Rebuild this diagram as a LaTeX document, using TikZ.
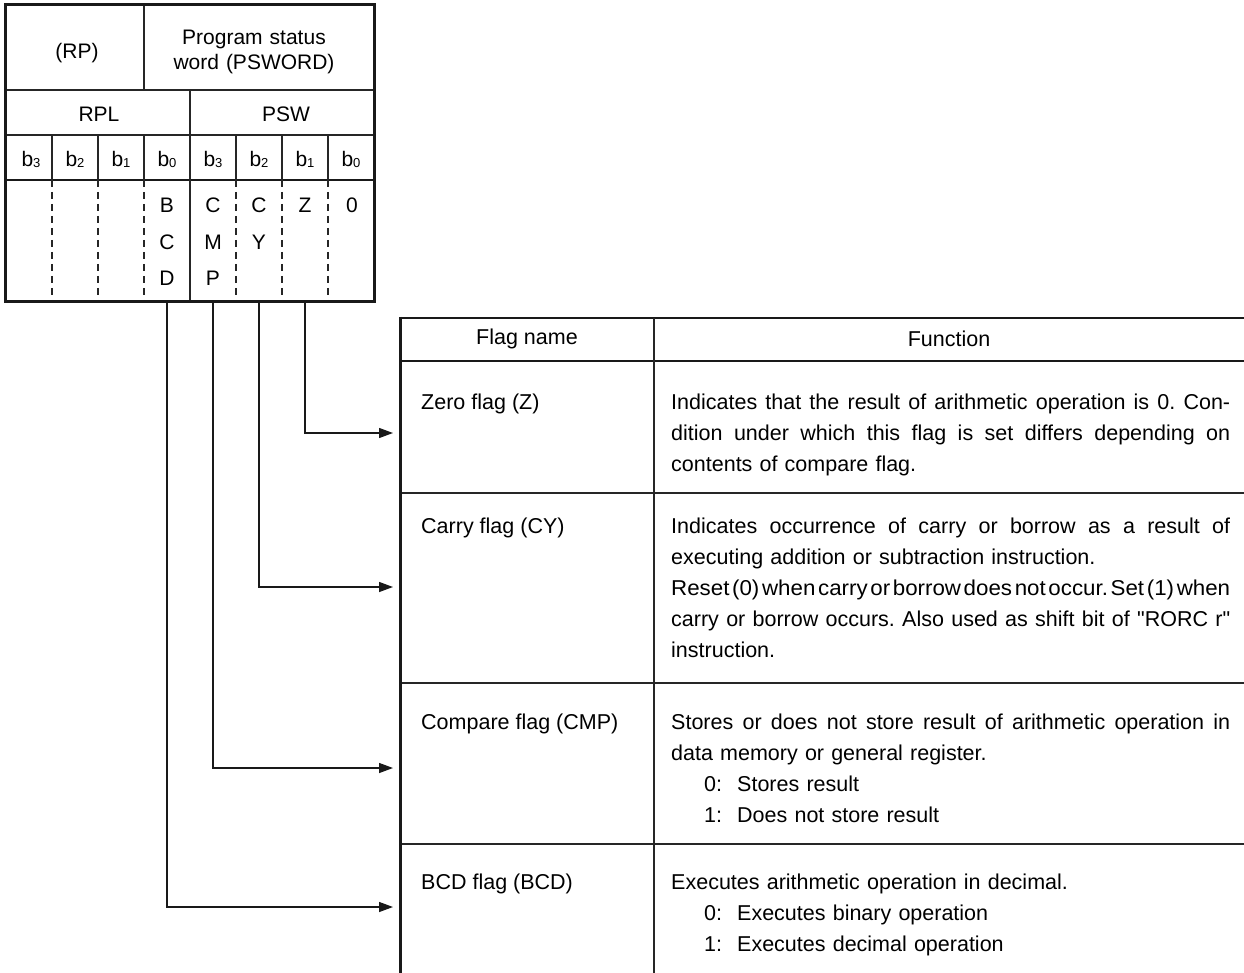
\documentclass[tikz,border=0pt]{standalone}
\usepackage{fontspec}
\setmainfont{Liberation Sans}
% same face without TeX ligatures, for straight double quotes
\newfontfamily\plainface{Liberation Sans}
\usetikzlibrary{arrows.meta}

% one full-width (justified) line of a description
\newcommand\jline[1]{\makebox[\linewidth][s]{\spaceskip=.278em plus 1fil\relax
  \xspaceskip=\spaceskip #1}\\}
% one line with tight spacing, squeezed to the full width
\newcommand\sqline[1]{\resizebox{\linewidth}{\height}{\spaceskip=.12em\relax
  \xspaceskip=\spaceskip #1}\\}
% bit label such as b3
\newcommand\bit[1]{b\raisebox{-1pt}{\fontsize{13}{13}\selectfont #1}}
% indented item of a choice list
\newcommand\choice[2]{\hspace*{33pt}\makebox[33pt][l]{#1:}#2}
\newcommand\sq{{\plainface\symbol{34}}}

\begin{document}
\begin{tikzpicture}[x=1pt,y=-1pt,
  gridline/.style={line width=1.2pt, draw=black!85},
  dashline/.style={line width=1.2pt, draw=black!85, dash pattern=on 7pt off 5pt},
  frame/.style={line width=3pt, draw=black!90},
  reg/.style={inner sep=0pt, anchor=base, font=\fontsize{21}{25}\selectfont},
  letters/.style={inner sep=0pt, anchor=base, text width=40pt, align=center,
                  font=\fontsize{21}{36.5}\selectfont},
  bitcell/.style={inner sep=0pt, minimum width=46pt, minimum height=122pt},
  conn/.style={line width=1.3pt, draw=black!90,
               -{Triangle[length=14pt,width=10pt]}},
  head/.style={inner sep=0pt, font=\fontsize{21.5}{31}\selectfont},
  flagname/.style={inner sep=0pt, anchor=base west, font=\fontsize{21.5}{31}\selectfont},
  functext/.style={inner sep=0pt, anchor=base west, text width=559pt, align=left,
                   font=\fontsize{21.5}{31}\selectfont\frenchspacing}]
\useasboundingbox (0,0) rectangle (1244,973);

% ---------- register layout ----------
\draw[gridline] (5,90) -- (374,90);
\draw[gridline] (5,135) -- (374,135);
\draw[line width=2.5pt, draw=black!90] (5,180) -- (374,180);
\draw[gridline] (144,5) -- (144,90);
\draw[gridline] (190,90) -- (190,302);
\foreach \x in {52,98,144,236,282,328} {
  \draw[gridline] (\x,135) -- (\x,180);
  \draw[dashline] (\x,180) -- (\x,302);
}
\draw[frame] (5,5) rectangle (374,302);

\node[reg] (rp) at (77,59) {(RP)};
\node[reg, text width=200pt, align=center] (psword) at (254,45) {Program status\\word (PSWORD)};
\node[reg] (rpl) at (99,122) {RPL};
\node[reg] (psw) at (286,122) {PSW};

\node[reg] (rb3) at (31,167) {\bit{3}};
\node[reg] (rb2) at (75,167) {\bit{2}};
\node[reg] (rb1) at (121,167) {\bit{1}};
\node[reg] (rb0) at (167,167) {\bit{0}};
\node[reg] (pb3) at (213,167) {\bit{3}};
\node[reg] (pb2) at (259,167) {\bit{2}};
\node[reg] (pb1) at (305,167) {\bit{1}};
\node[reg] (pb0) at (351,167) {\bit{0}};

% flag bit cells
\node[bitcell] (bcd) at (167,241) {};
\node[bitcell] (cmp) at (213,241) {};
\node[bitcell] (cy)  at (259,241) {};
\node[bitcell] (z)   at (305,241) {};
\node[bitcell] (zero) at (351,241) {};
\node[letters] (bcdtxt) at (167,213) {B\\C\\D};
\node[letters] (cmptxt) at (213,213) {C\\M\\P};
\node[letters] (cytxt)  at (259,213) {C\\Y};
\node[letters] (ztxt)   at (305,213) {Z};
\node[letters] (zerotxt) at (352,213) {0};

% ---------- flag table ----------
\draw[line width=2pt, draw=black!90] (400,318) -- (1244,318);
\draw[line width=2pt, draw=black!90] (400,361) -- (1244,361);
\foreach \y in {493,683,844} \draw[gridline] (400,\y) -- (1244,\y);
\draw[gridline] (654,318) -- (654,973);
\draw[frame] (400,317) -- (400,973);

\node[head] (hname) at (527,339) {Flag name};
\node[head] (hfunc) at (949,339) {Function};

\node[flagname] (zname)   at (421,409) {Zero flag (Z)};
\node[flagname] (cyname)  at (421,533) {Carry flag (CY)};
\node[flagname] (cmpname) at (421,729) {Compare flag (CMP)};
\node[flagname] (bcdname) at (421,889) {BCD flag (BCD)};

\node[functext] (zfunc) at (671,409) {%
  \jline{Indicates that the result of arithmetic operation is 0. Con-}
  \jline{dition under which this flag is set differs depending on}
  contents of compare flag.};
\node[functext] (cyfunc) at (671,533) {%
  \jline{Indicates occurrence of carry or borrow as a result of}
  executing addition or subtraction instruction.\\
  \sqline{Reset (0) when carry or borrow does not occur. Set (1) when}
  \jline{carry or borrow occurs. Also used as shift bit of \sq RORC r\sq}
  instruction.};
\node[functext] (cmpfunc) at (671,729) {%
  \jline{Stores or does not store result of arithmetic operation in}
  data memory or general register.\\
  \choice{0}{Stores result}\\
  \choice{1}{Does not store result}};
\node[functext] (bcdfunc) at (671,889) {%
  Executes arithmetic operation in decimal.\\
  \choice{0}{Executes binary operation}\\
  \choice{1}{Executes decimal operation}};

% ---------- connectors ----------
\coordinate (zin)   at (393,433);
\coordinate (cyin)  at (393,587);
\coordinate (cmpin) at (393,768);
\coordinate (bcdin) at (393,907);
\draw[conn] (z.south)   |- (zin);
\draw[conn] (cy.south)  |- (cyin);
\draw[conn] (cmp.south) |- (cmpin);
\draw[conn] (bcd.south) |- (bcdin);
\end{tikzpicture}
\end{document}
